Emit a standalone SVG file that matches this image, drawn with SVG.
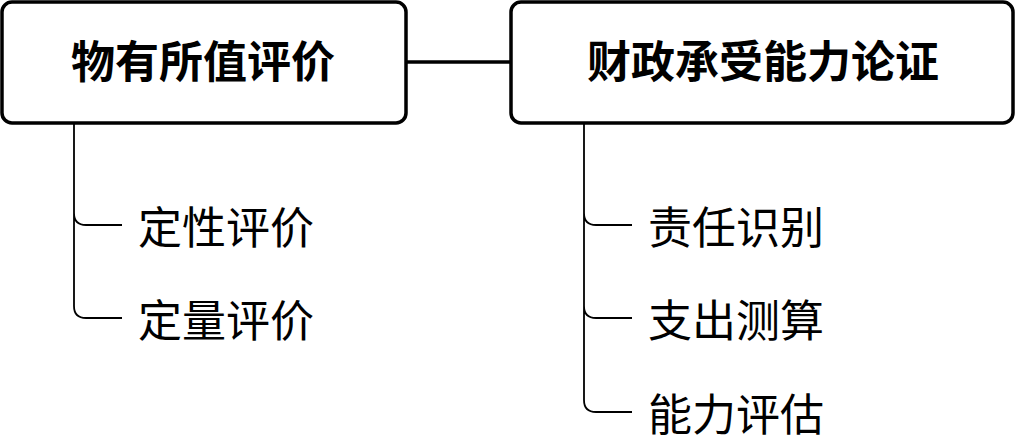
<svg xmlns="http://www.w3.org/2000/svg" width="1016" height="437" viewBox="0 0 1016 437">
<style>
.box{fill:#fff;stroke:#000;stroke-width:3.5}
.title{font-family:"Noto Sans CJK SC","Noto Sans",sans-serif;font-size:44px;font-weight:bold;fill:#000;text-anchor:middle}
.item{font-family:"Noto Sans CJK SC","Noto Sans",sans-serif;font-size:44px;fill:#000}
.conn{fill:none;stroke:#000;stroke-width:3.5}
.branch{fill:none;stroke:#000;stroke-width:1.8}
</style>
<rect width="1016" height="437" fill="#fff"/>
<g id="connectors">
<line class="conn" x1="406" y1="62" x2="511" y2="62"/>
<path class="branch" d="M74 124 V213 Q74 225 86 225 H122 M74 213 V306 Q74 318 86 318 H122"/>
<path class="branch" d="M584 124 V213 Q584 225 596 225 H632 M584 213 V306 Q584 318 596 318 H632 M584 306 V400 Q584 412 596 412 H632"/>
</g>
<g id="node-vfm">
<rect class="box" x="2" y="2" width="404" height="121" rx="10"/>
<text class="title" x="203" y="78">物有所值评价</text>
</g>
<g id="node-fiscal">
<rect class="box" x="511" y="2" width="502" height="121" rx="10"/>
<text class="title" x="763" y="78">财政承受能力论证</text>
</g>
<g id="item-qual"><text class="item" x="138" y="244">定性评价</text></g>
<g id="item-quant"><text class="item" x="138" y="337">定量评价</text></g>
<g id="item-resp"><text class="item" x="648" y="244">责任识别</text></g>
<g id="item-exp"><text class="item" x="648" y="337">支出测算</text></g>
<g id="item-cap"><text class="item" x="648" y="431">能力评估</text></g>
</svg>
